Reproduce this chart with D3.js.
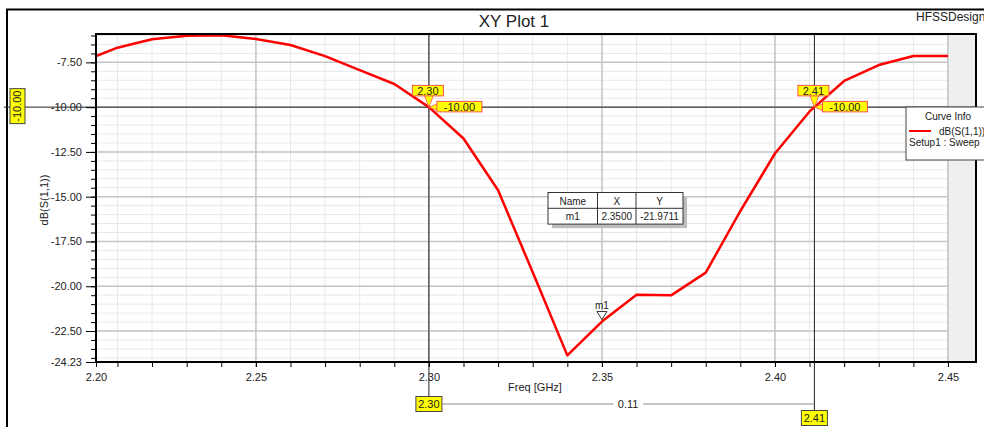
<!DOCTYPE html>
<html>
<head>
<meta charset="utf-8">
<script src="https://cdn.jsdelivr.net/npm/d3@7"></script>
<style>
	body { margin: 0; background: #fff; }
	text { font-family: "Liberation Sans", Arial, sans-serif; fill: #222; }
</style>
</head>
<body>
<svg id="chart" width="984" height="427"></svg>
<script>
// sweep data
var freq = [2.20, 2.21, 2.22, 2.23, 2.24, 2.25, 2.26, 2.27, 2.28, 2.29, 2.30, 2.31, 2.32,
	2.33, 2.34, 2.35, 2.36, 2.37, 2.38, 2.39, 2.40, 2.41, 2.42, 2.43, 2.44, 2.45];
var s11 = [-7.44, -6.68, -6.21, -6.01, -5.99, -6.20, -6.53, -7.15, -7.93, -8.71, -10.00, -11.75, -14.64,
	-19.22, -23.86, -21.97, -20.47, -20.51, -19.24, -15.80, -12.59, -10.24, -8.54, -7.65, -7.15, -7.15];

var xDomain = [2.2038, 2.4581];
var yDomain = [-24.23, -5.917];
var xTicks = [2.25, 2.30, 2.35, 2.40, 2.45];
var xTickLabels = ['2.25', '2.30', '2.35', '2.40', '2.45'];
var xMinLabel = '2.20';
var yTicks = [-7.5, -10, -12.5, -15, -17.5, -20, -22.5];
var yMinLabel = '-24.23';
var dataEnd = 2.45;

// markers
var markerX = [2.30, 2.4114];
var markerXLabels = ['2.30', '2.41'];
var markerY = -10;
var markerYLabel = '-10.00';
var deltaLabel = '0.11';
var m1Freq = 2.35;
var m1Val = -21.9711;
var tableHead = ['Name', 'X', 'Y'];
var tableRow = ['m1', '2.3500', '-21.9711'];

function XYPlot(elementId) {
	var svg = d3.select('#' + elementId),
		pLeft = 96, pRight = 976, pTop = 34, pBottom = 362;

	var scaleX = d3.scaleLinear().domain(xDomain).range([pLeft, pRight]);
	var scaleY = d3.scaleLinear().domain(yDomain).range([pBottom, pTop]);

	// outer frame
	svg.append('rect')
		.attr('x', 7).attr('y', 9.5).attr('width', 1000).attr('height', 440)
		.attr('fill', 'none').attr('stroke', '#000').attr('stroke-width', 2);

	svg.append('text').attr('x', 514).attr('y', 27).attr('text-anchor', 'middle')
		.style('font-size', '17px').text('XY Plot 1');
	svg.append('text').attr('x', 916).attr('y', 21)
		.style('font-size', '12px').text('HFSSDesign1');

	var g = svg.append('g');

	g.append('defs').append('clipPath').attr('id', 'clip')
		.append('rect').attr('x', pLeft).attr('y', pTop)
		.attr('width', pRight - pLeft).attr('height', pBottom - pTop);

	// grid
	var minorX = d3.range(221, 246).map(function (d) { return d / 100; });
	var minorY = d3.range(-48, -11).map(function (d) { return d / 2; });

	g.selectAll('.gx').data(minorX).enter().append('line')
		.attr('x1', scaleX).attr('x2', scaleX).attr('y1', pTop).attr('y2', pBottom)
		.attr('stroke', '#e8e8e8').attr('stroke-width', 1);
	g.selectAll('.gy').data(minorY).enter().append('line')
		.attr('y1', scaleY).attr('y2', scaleY).attr('x1', pLeft).attr('x2', pRight)
		.attr('stroke', '#e8e8e8').attr('stroke-width', 1);
	g.selectAll('.gX').data(xTicks).enter().append('line')
		.attr('x1', scaleX).attr('x2', scaleX).attr('y1', pTop).attr('y2', pBottom)
		.attr('stroke', '#c6c6c6').attr('stroke-width', 1.5);
	g.selectAll('.gY').data(yTicks).enter().append('line')
		.attr('y1', scaleY).attr('y2', scaleY).attr('x1', pLeft).attr('x2', pRight)
		.attr('stroke', '#c6c6c6').attr('stroke-width', 1.5);

	// area past the last sweep point
	g.append('rect')
		.attr('x', scaleX(dataEnd)).attr('y', pTop)
		.attr('width', pRight - scaleX(dataEnd)).attr('height', pBottom - pTop)
		.attr('fill', '#efefef');
	g.append('line')
		.attr('x1', scaleX(dataEnd)).attr('x2', scaleX(dataEnd)).attr('y1', pTop).attr('y2', pBottom)
		.attr('stroke', '#c6c6c6').attr('stroke-width', 1.5);

	// marker lines
	var my = scaleY(markerY);
	g.append('line').attr('x1', 4).attr('x2', pRight).attr('y1', my).attr('y2', my)
		.attr('stroke', '#222').attr('stroke-width', 1);
	var lineEnds = [397, 411];
	markerX.forEach(function (mx, i) {
		g.append('line').attr('x1', scaleX(mx)).attr('x2', scaleX(mx))
			.attr('y1', pTop).attr('y2', lineEnds[i])
			.attr('stroke', '#222').attr('stroke-width', 1);
	});

	// curve
	var line = d3.line()
		.x(function (d, i) { return scaleX(freq[i]); })
		.y(function (d) { return scaleY(d); });

	g.append('path').datum(s11)
		.attr('clip-path', 'url(#clip)')
		.attr('fill', 'none')
		.attr('stroke', '#ff0000')
		.attr('stroke-width', 2.5)
		.attr('stroke-linejoin', 'round')
		.attr('d', line);

	// axes
	var xAxisMinor = g.append('g').attr('transform', 'translate(0,' + pBottom + ')')
		.call(d3.axisBottom(scaleX).tickValues(minorX).tickSize(5).tickFormat(''));
	var xAxis = g.append('g').attr('transform', 'translate(0,' + pBottom + ')')
		.call(d3.axisBottom(scaleX).tickValues([xDomain[0]].concat(xTicks)).tickSize(5).tickPadding(6)
			.tickFormat(function (d, i) { return i === 0 ? xMinLabel : xTickLabels[i - 1]; }));
	var yAxisMinor = g.append('g').attr('transform', 'translate(' + pLeft + ',0)')
		.call(d3.axisLeft(scaleY).tickValues(minorY).tickSize(5).tickFormat(''));
	var yAxis = g.append('g').attr('transform', 'translate(' + pLeft + ',0)')
		.call(d3.axisLeft(scaleY).tickValues(yTicks.concat([yDomain[0]])).tickSize(10).tickPadding(4)
			.tickFormat(function (d, i) { return i < yTicks.length ? d.toFixed(2) : yMinLabel; }));

	[xAxisMinor, xAxis, yAxisMinor, yAxis].forEach(function (a) {
		a.select('.domain').remove();
		a.selectAll('line').attr('stroke', '#000');
		a.selectAll('text').style('font-size', '11px').attr('fill', '#222')
			.style('font-family', '"Liberation Sans", Arial, sans-serif');
	});

	// plot border
	g.append('rect').attr('x', pLeft).attr('y', pTop)
		.attr('width', pRight - pLeft).attr('height', pBottom - pTop)
		.attr('fill', 'none').attr('stroke', '#000').attr('stroke-width', 2);

	g.append('text').attr('x', 535).attr('y', 391).attr('text-anchor', 'middle')
		.style('font-size', '11px').text('Freq [GHz]');
	g.append('text').attr('transform', 'translate(48,200) rotate(-90)').attr('text-anchor', 'middle')
		.style('font-size', '11px').text('dB(S(1,1))');

	// yellow labels
	function tag(x, y, w, h, txt, border, rotate) {
		var t = svg.append('g').attr('transform', 'translate(' + x + ',' + y + ')');
		t.append('rect').attr('x', -w / 2).attr('y', -h / 2).attr('width', w).attr('height', h)
			.attr('fill', '#ffff00').attr('stroke', border).attr('stroke-width', 1);
		t.append('text').attr('text-anchor', 'middle').attr('dy', '0.36em')
			.attr('transform', rotate ? 'rotate(-90)' : null)
			.style('font-size', '11px').text(txt);
		return t;
	}

	markerX.forEach(function (mx, i) {
		var px = scaleX(mx), py = scaleY(markerY);
		// pointer down to the point
		svg.append('path')
			.attr('d', 'M' + (px - 5) + ',' + (py - 13) + 'L' + (px + 5) + ',' + (py - 13) + 'L' + px + ',' + py + 'Z')
			.attr('fill', '#ffff00').attr('stroke', '#ff5050').attr('stroke-width', 0.8);
		tag(px - 1, py - 16.5, 31, 10.5, markerXLabels[i], '#ff5050');
		// pointer left to the point
		svg.append('path')
			.attr('d', 'M' + (px + 10) + ',' + (py - 4) + 'L' + (px + 10) + ',' + (py + 4) + 'L' + px + ',' + py + 'Z')
			.attr('fill', '#ffff00').attr('stroke', '#ff5050').attr('stroke-width', 0.8);
		tag(px + 30.5, py - 0.5, 45, 10.5, markerYLabel, '#ff5050');
	});

	// left and bottom readouts
	tag(17.5, scaleY(markerY) - 1, 15, 35, markerYLabel, '#444', true);
	var bx1 = scaleX(markerX[0]), bx2 = scaleX(markerX[1]);
	svg.append('line').attr('x1', bx1 + 13).attr('x2', bx2).attr('y1', 404).attr('y2', 404)
		.attr('stroke', '#888').attr('stroke-width', 1);
	svg.append('rect').attr('x', (bx1 + 13 + bx2) / 2 - 15).attr('y', 397).attr('width', 30).attr('height', 14)
		.attr('fill', '#fff');
	svg.append('text').attr('x', (bx1 + 13 + bx2) / 2).attr('y', 408).attr('text-anchor', 'middle')
		.style('font-size', '11px').text(deltaLabel);
	tag(bx1, 404, 26, 15, markerXLabels[0], '#444');
	tag(bx2, 418, 26, 15, markerXLabels[1], '#444');

	// m1 marker
	var m1x = scaleX(m1Freq), m1y = scaleY(m1Val);
	svg.append('path')
		.attr('d', 'M' + (m1x - 5) + ',' + (m1y - 10) + 'L' + (m1x + 5) + ',' + (m1y - 10) + 'L' + m1x + ',' + (m1y - 2) + 'Z')
		.attr('fill', '#fff').attr('stroke', '#333').attr('stroke-width', 1);
	svg.append('text').attr('x', m1x).attr('y', m1y - 13).attr('text-anchor', 'middle')
		.style('font-size', '10px').text(tableRow[0]);

	// marker table
	var tx = 548, ty = 192.5, colW = [49.5, 38.5, 47], rowH = 15.8;
	svg.append('rect').attr('x', tx + 4).attr('y', ty + 4)
		.attr('width', d3.sum(colW)).attr('height', rowH * 2).attr('fill', '#bdbdbd');
	svg.append('rect').attr('x', tx).attr('y', ty)
		.attr('width', d3.sum(colW)).attr('height', rowH * 2)
		.attr('fill', '#fff').attr('stroke', '#333').attr('stroke-width', 1);
	svg.append('line').attr('x1', tx).attr('x2', tx + d3.sum(colW))
		.attr('y1', ty + rowH).attr('y2', ty + rowH).attr('stroke', '#333');
	var cx = tx;
	colW.forEach(function (w, i) {
		if (i > 0) {
			svg.append('line').attr('x1', cx).attr('x2', cx).attr('y1', ty).attr('y2', ty + rowH * 2)
				.attr('stroke', '#333');
		}
		svg.append('text').attr('x', cx + w / 2).attr('y', ty + 12).attr('text-anchor', 'middle')
			.style('font-size', '10px').text(tableHead[i]);
		svg.append('text').attr('x', cx + w / 2).attr('y', ty + rowH + 12).attr('text-anchor', 'middle')
			.style('font-size', '10px').text(tableRow[i]);
		cx += w;
	});

	// curve info legend
	var lg = svg.append('g').attr('transform', 'translate(906,107)');
	lg.append('rect').attr('width', 100).attr('height', 53)
		.attr('fill', '#fff').attr('stroke', '#444').attr('stroke-width', 1);
	lg.append('text').attr('x', 42).attr('y', 13).attr('text-anchor', 'middle')
		.style('font-size', '10px').text('Curve Info');
	lg.append('line').attr('x1', 3).attr('x2', 25).attr('y1', 24).attr('y2', 24)
		.attr('stroke', '#ff0000').attr('stroke-width', 2);
	lg.append('text').attr('x', 33).attr('y', 28).style('font-size', '10px').text('dB(S(1,1))');
	lg.append('text').attr('x', 3).attr('y', 39).style('font-size', '10px').text('Setup1 : Sweep');
}

new XYPlot('chart');
</script>
</body>
</html>
